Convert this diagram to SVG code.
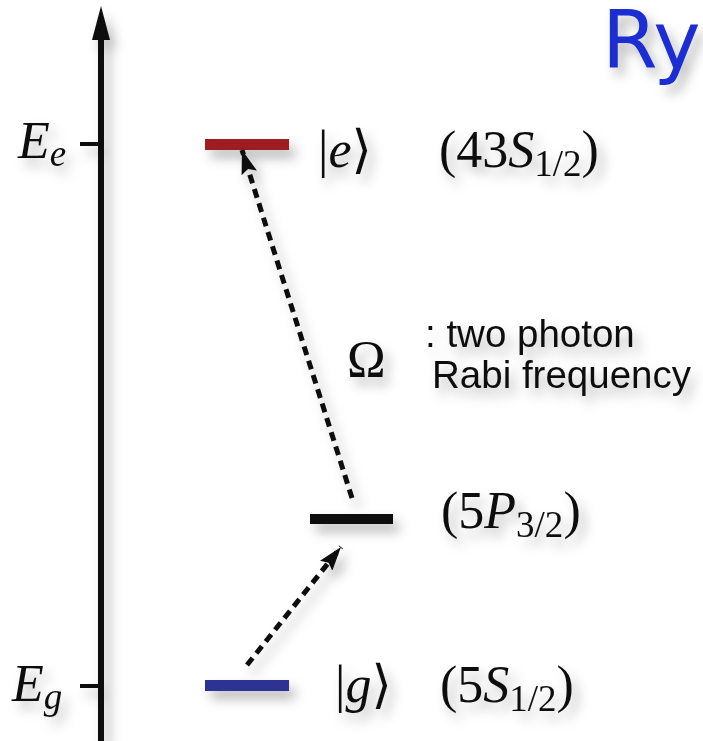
<svg xmlns="http://www.w3.org/2000/svg" width="703" height="741" viewBox="0 0 703 741">
<defs>
<filter id="sh" x="-30%" y="-30%" width="160%" height="160%">
<feDropShadow dx="6" dy="8" stdDeviation="6" flood-color="#000" flood-opacity="0.28"/>
</filter>
<marker id="ah" markerUnits="userSpaceOnUse" markerWidth="24" markerHeight="16" viewBox="0 0 24 16" refX="24" refY="8" orient="auto">
<path d="M0,0 L24,8 L0,16 L4,8 z" fill="#111"/>
</marker>
<style>
.m{font-family:"Liberation Serif","DejaVu Serif",serif;font-size:52px;fill:#111}
.i{font-style:italic}
.sub{font-size:37px}
.s{font-family:"Liberation Sans",Arial,sans-serif;font-size:38.5px;fill:#111}
.dash{stroke:#111;stroke-width:5;stroke-dasharray:9 6;fill:none}
</style>
</defs>
<rect width="703" height="741" fill="#fff"/>
<g id="title" filter="url(#sh)">
<text x="602" y="68" font-family="'Comic Sans MS','DejaVu Sans',sans-serif" font-size="80" fill="#1a2fd2">Ry</text>
</g>
<g id="axis" filter="url(#sh)">
<line x1="101" y1="38" x2="101" y2="741" stroke="#111" stroke-width="6"/>
<polygon points="101,6 110,40 92,40" fill="#111"/>
<line x1="80" y1="144" x2="101" y2="144" stroke="#111" stroke-width="4"/>
<line x1="80" y1="686" x2="101" y2="686" stroke="#111" stroke-width="4"/>
<text class="m i" x="18" y="158">E<tspan class="sub" dy="8">e</tspan></text>
<text class="m i" x="12" y="701">E<tspan class="sub" dy="8">g</tspan></text>
</g>
<g id="level-e" filter="url(#sh)">
<rect x="205" y="139" width="84" height="11" fill="#9e1b20"/>
<text class="m" x="318" y="167">|<tspan class="i">e</tspan>⟩</text>
<text class="m" x="439" y="167">(43<tspan class="i">S</tspan><tspan class="sub" dy="9">1/2</tspan><tspan dy="-9">)</tspan></text>
</g>
<g id="level-p" filter="url(#sh)">
<rect x="310" y="514" width="83" height="10" fill="#111"/>
<text class="m" x="441" y="528">(5<tspan class="i">P</tspan><tspan class="sub" dy="9">3/2</tspan><tspan dy="-9">)</tspan></text>
</g>
<g id="level-g" filter="url(#sh)">
<rect x="205" y="680" width="84" height="11" fill="#2e3192"/>
<text class="m" x="335" y="702">|<tspan class="i">g</tspan>⟩</text>
<text class="m" x="440" y="702">(5<tspan class="i">S</tspan><tspan class="sub" dy="9">1/2</tspan><tspan dy="-9">)</tspan></text>
</g>
<g id="label-omega" filter="url(#sh)">
<text class="m" x="347" y="377">Ω</text>
<text class="s" x="425" y="347">: two photon</text>
<text class="s" x="432" y="388">Rabi frequency</text>
</g>
<g id="connectors" filter="url(#sh)">
<line class="dash" x1="352" y1="498" x2="242" y2="150" marker-end="url(#ah)"/>
<line class="dash" x1="247" y1="665" x2="341" y2="547" marker-end="url(#ah)"/>
</g>
</svg>
